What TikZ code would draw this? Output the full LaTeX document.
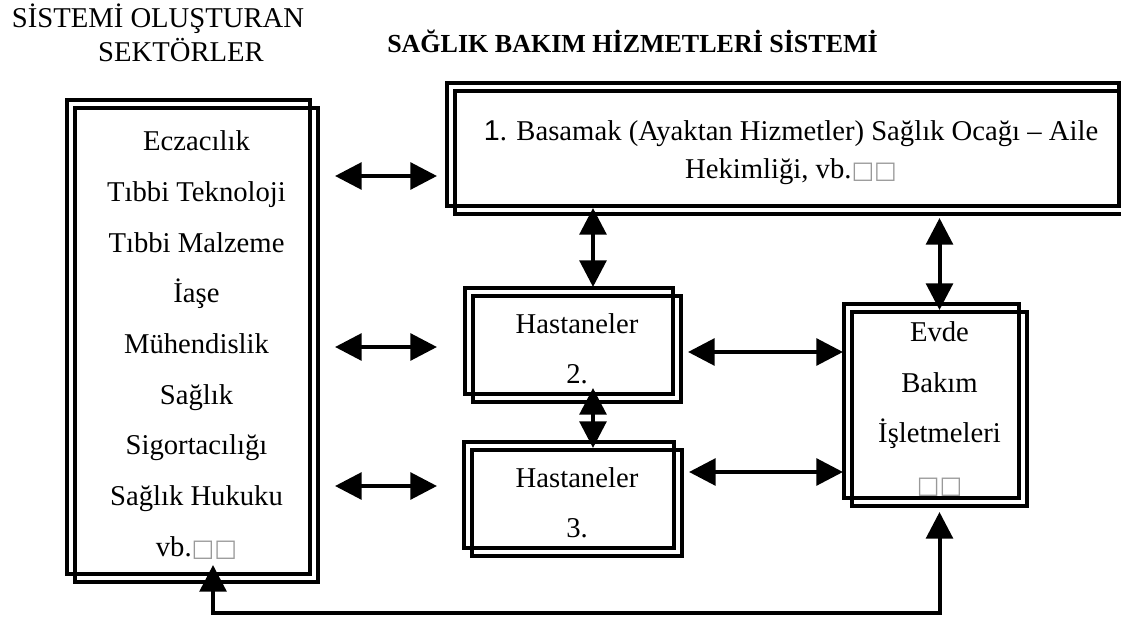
\documentclass[tikz,border=0pt]{standalone}
\usepackage{fontspec}
\setmainfont{Liberation Serif}
\newfontfamily\arialfont{Liberation Sans}
\newfontfamily\glfont{DejaVu Sans}
\usetikzlibrary{arrows.meta,shadows,calc}
\newcommand{\nogl}{{\glfont\fontsize{18}{18}\selectfont\color{gray!80}□□}}

\begin{document}
\begin{tikzpicture}[x=0.75pt,y=-0.75pt,
    box/.style={draw,line width=2.3pt,inner sep=0pt,outer sep=0pt,align=center,
        font=\fontsize{21.5}{38}\selectfont,
        copy shadow={shadow xshift=-6pt,shadow yshift=6pt,fill=none,draw=black,line width=2.3pt}},
    link/.style={line width=3pt,{Triangle[length=20pt,width=20pt]}-{Triangle[length=20pt,width=20pt]}},
    head/.style={font=\fontsize{21.5}{21.5}\selectfont,anchor=base,inner sep=0pt}]
    \useasboundingbox (0,0) rectangle (1121,617);

    % basliklar
    \node[head] (titleA) at (158,28) {SİSTEMİ OLUŞTURAN};
    \node[head] (titleB) at (181,62) {SEKTÖRLER};
    \node[head,anchor=base west,font=\fontsize{19.5}{19.5}\selectfont\bfseries] (titleC) at (387,53) {SAĞLIK BAKIM HİZMETLERİ SİSTEMİ};

    % kutular
    \node[box,minimum width=182.25pt,minimum height=355.5pt] (sectors) at (196.5,345)
        {Eczacılık\\Tıbbi Teknoloji\\Tıbbi Malzeme\\İaşe\\Mühendislik\\Sağlık\\Sigortacılığı\\Sağlık Hukuku\\vb.\nogl};
    \node[box,minimum width=504pt,minimum height=92.25pt,font=\fontsize{21.5}{28.5}\selectfont] (lvl1) at (791,152.5)
        {{\arialfont 1}. Basamak (Ayaktan Hizmetler) Sağlık Ocağı -- Aile\\Hekimliği, vb.\nogl};
    \node[box,minimum width=156pt,minimum height=79.5pt,font=\fontsize{21.5}{37.5}\selectfont] (hosp2) at (577,349) {Hastaneler\\2.};
    \node[box,minimum width=157.5pt,minimum height=79.5pt,font=\fontsize{21.5}{37.5}\selectfont] (hosp3) at (577,503) {Hastaneler\\3.};
    \node[box,minimum width=131.25pt,minimum height=145.5pt] (home) at (939.5,409) {Evde\\Bakım\\İşletmeleri\\\nogl};

    % sol oklar
    \draw[link] ($(sectors.east |- 0,176)+(12.75pt,0)$) -- ($(lvl1.west |- 0,176)+(-13.5pt,0)$);
    \draw[link] ($(sectors.east |- 0,347)+(12.75pt,0)$) -- ($(hosp2.west |- 0,347)+(-27pt,0)$);
    \draw[link] ($(sectors.east |- 0,486)+(12.75pt,0)$) -- ($(hosp3.west |- 0,486)+(-26.25pt,0)$);

    % dikey oklar
    \draw[link] ($(lvl1.south -| hosp2.north)+(12pt,4.5pt)$) -- ($(hosp2.north)+(12pt,6.75pt)$);
    \draw[link] ($(hosp2.south)+(12pt,10.5pt)$) -- ($(hosp3.north)+(12pt,1.5pt)$);
    \draw[link] ($(lvl1.south -| home.north)+(0,-3pt)$) -- ($(home.north)+(0,1.5pt)$);

    % evde bakim
    \draw[link] ($(hosp2.east)+(5.25pt,-2.25pt)$) -- ($(hosp2.east -| home.west)+(-6.75pt,-2.25pt)$);
    \draw[link] ($(hosp3.east)+(5.25pt,23.25pt)$) -- ($(hosp3.east -| home.west)+(-6.75pt,23.25pt)$);
    \draw[link] ($(home.south)+(0,-4.5pt)$) -- ++(0,101) -| ($(sectors.south)+(12.4pt,12.75pt)$);
\end{tikzpicture}
\end{document}
